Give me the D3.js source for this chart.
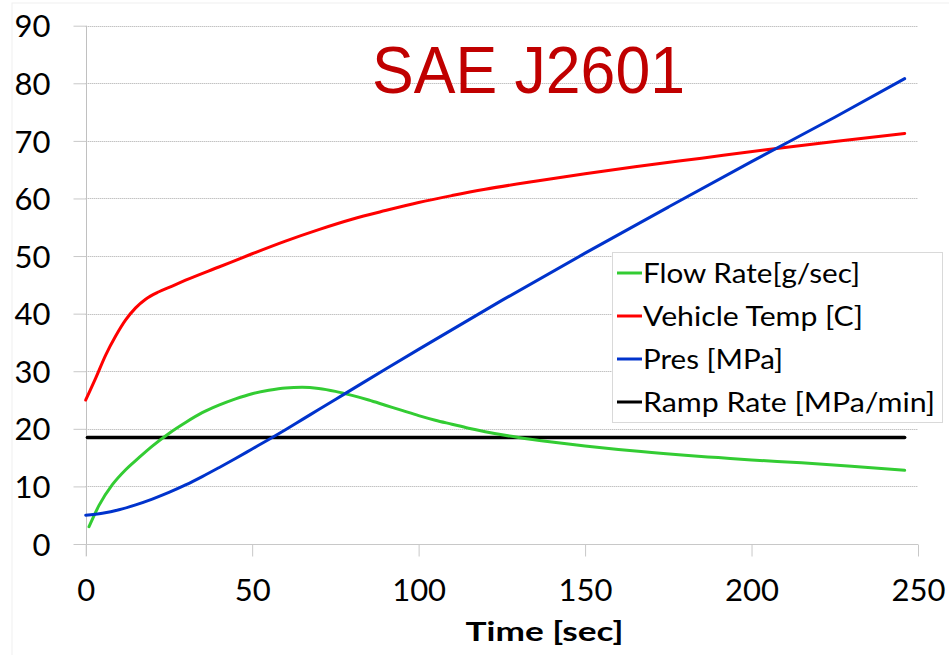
<!DOCTYPE html>
<html><head><meta charset="utf-8">
<script src="https://cdn.jsdelivr.net/npm/d3@7"></script>
<style>body{margin:0;background:#fff;} svg{display:block;}</style>
</head><body>
<svg id="chart" width="949" height="655"></svg>
<script>
const title = "SAE J2601";
const xLabel = "Time [sec]";
const xTicks = [0, 50, 100, 150, 200, 250];
const yTicks = [0, 10, 20, 30, 40, 50, 60, 70, 80, 90];
const seriesNames = ["Flow Rate[g/sec]", "Vehicle Temp [C]", "Pres [MPa]", "Ramp Rate [MPa/min]"];
const seriesColors = ["#33cc33", "#ff0000", "#0033cc", "#000000"];

const flowRate = [[1,3.0],[4,6.7],[8,10.3],[12,12.9],[16,15.0],[20,17.0],[25,19.2],[30,21.1],[35,22.8],[40,24.1],[45,25.2],[50,26.1],[55,26.7],[60,27.1],[65,27.2],[70,27.0],[75,26.5],[80,25.8],[85,25.0],[90,24.1],[95,23.2],[100,22.3],[105,21.5],[110,20.8],[115,20.1],[120,19.5],[130,18.5],[140,17.7],[150,17.0],[160,16.4],[170,15.9],[180,15.4],[190,15.0],[200,14.6],[215,14.1],[230,13.5],[246,12.8]];
const vehicleTemp = [[0,25.0],[3,28.8],[6,32.8],[9,36.1],[12,38.9],[15,41.0],[18,42.5],[22,43.8],[26,44.8],[30,45.8],[40,48.1],[50,50.4],[60,52.6],[70,54.6],[80,56.4],[90,57.9],[100,59.3],[110,60.5],[120,61.6],[135,63.0],[150,64.3],[165,65.5],[185,67.0],[205,68.5],[225,69.9],[246,71.3]];
const pressure = [[0,5.0],[5,5.35],[10,5.95],[15,6.8],[20,7.8],[25,8.95],[30,10.25],[35,11.7],[40,13.25],[45,14.85],[50,16.5],[55,18.15],[60,19.85],[65,21.6],[70,23.35],[75,25.1],[80,26.85],[90,30.35],[100,33.8],[125,42.3],[150,50.5],[175,58.5],[200,66.4],[225,74.1],[246,80.8]];
const rampRate = [[0.5,18.5],[246,18.5]];

const svg = d3.select("#chart");
const font = "Lato, 'Open Sans', sans-serif";

// chart area faint border
svg.append("rect").attr("x",12).attr("y",3).attr("width",960).attr("height",700)
  .attr("fill","none").attr("stroke","#f0f0f0");

const x = d3.scaleLinear().domain([0,250]).range([85.7,918]);
const y = d3.scaleLinear().domain([0,90]).range([544,25.7]);

// gridlines (dotted)
svg.append("g").selectAll("line").data(yTicks.filter(d=>d>0)).join("line")
  .attr("x1",x(0)).attr("x2",x(250))
  .attr("y1",d=>Math.round(y(d))+0.5).attr("y2",d=>Math.round(y(d))+0.5)
  .attr("stroke","#a8a8a8").attr("stroke-width",1).attr("stroke-dasharray","1,1");

// y axis
const yAxis = d3.axisLeft(y).tickValues(yTicks).tickSize(13).tickPadding(23).tickFormat(d3.format("d"));
const gy = svg.append("g").attr("transform",`translate(${Math.round(x(0))+0.5},0)`).call(yAxis);
gy.select(".domain").attr("stroke","#c0c0c0").attr("d",`M0,${y(90)}V${y(0)+12}`);
gy.selectAll(".tick line").attr("stroke","#c8c8c8");
gy.selectAll(".tick text").attr("font-family",font).attr("font-size",31).attr("fill","#000").attr("dy","0.36em");

// x axis
const xAxis = d3.axisBottom(x).tickValues(xTicks).tickSize(12).tickPadding(22).tickFormat(d3.format("d"));
const gx = svg.append("g").attr("transform",`translate(0,${Math.round(y(0))+0.5})`).call(xAxis);
gx.select(".domain").attr("stroke","#c8c8c8").attr("d",`M${x(0)},0H${x(250)}`);
gx.selectAll(".tick line").attr("stroke","#c8c8c8");
gx.selectAll(".tick text").attr("font-family",font).attr("font-size",31).attr("fill","#000").attr("dy","0.71em");

// series
const line = d3.line().x(d=>x(d[0])).y(d=>y(d[1])).curve(d3.curveMonotoneX);
const allSeries = [flowRate, vehicleTemp, pressure, rampRate];
const drawOrder = [3, 0, 1, 2];
drawOrder.forEach(i=>{
  svg.append("path").datum(allSeries[i]).attr("d",line)
    .attr("fill","none").attr("stroke",seriesColors[i])
    .attr("stroke-width", i===3 ? 3.5 : 3).attr("stroke-linecap","round");
});

// title
svg.append("text").attr("x",372).attr("y",93).text(title)
  .attr("font-family","'Liberation Sans', Arial, sans-serif").attr("font-size",67)
  .attr("fill","#c00000").attr("textLength",313).attr("lengthAdjust","spacingAndGlyphs");

// x label
svg.append("text").attr("x",544.5).attr("y",641).attr("text-anchor","middle").text(xLabel)
  .attr("font-family",font).attr("font-weight","bold").attr("font-size",26).attr("fill","#000")
  .attr("textLength",158).attr("lengthAdjust","spacingAndGlyphs");

// legend
const legend = svg.append("g");
legend.append("rect").attr("x",612.5).attr("y",252.5).attr("width",330).attr("height",170)
  .attr("fill","#fff").attr("stroke","#d9d9d9");
const legendWidths = [217, 220, 140, 292];
seriesNames.forEach((n,i)=>{
  const cy = 273 + i*43;
  legend.append("line").attr("x1",617).attr("x2",642).attr("y1",cy).attr("y2",cy)
    .attr("stroke",seriesColors[i]).attr("stroke-width",3);
  legend.append("text").attr("x",643).attr("y",cy+10).text(n)
    .attr("font-family",font).attr("font-size",27).attr("fill","#000")
    .attr("textLength",legendWidths[i]).attr("lengthAdjust","spacingAndGlyphs");
});
</script>
</body></html>
